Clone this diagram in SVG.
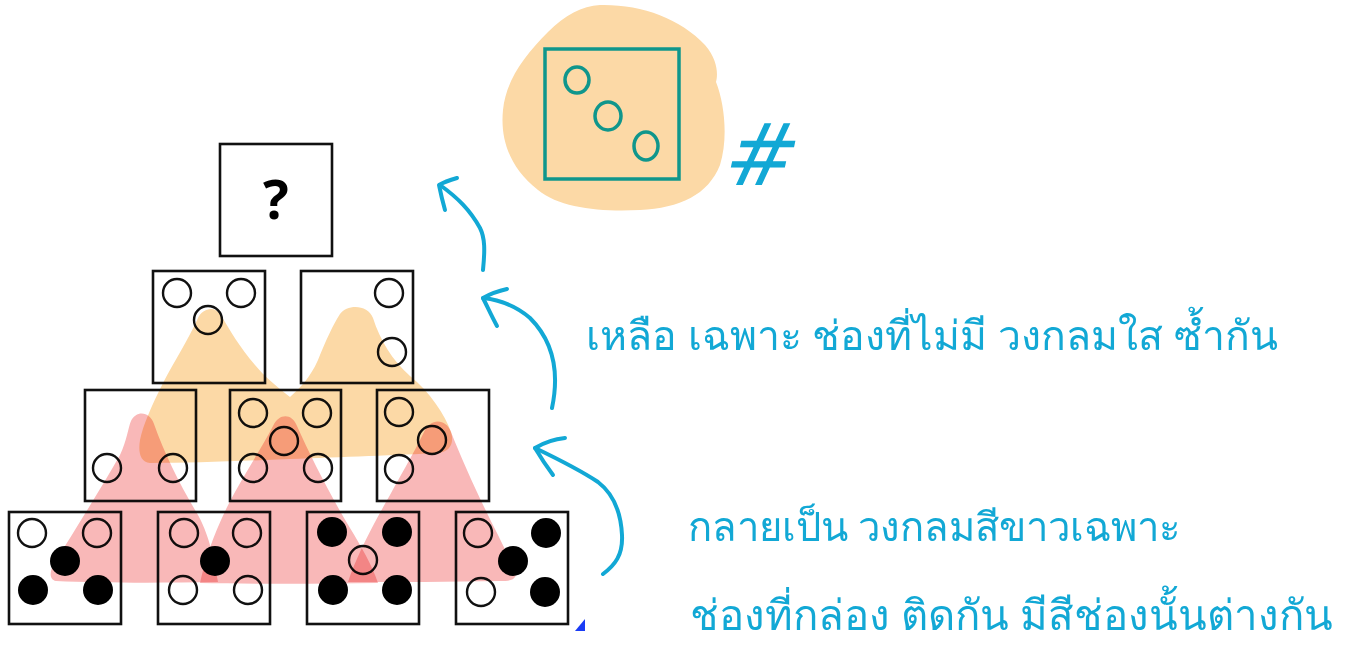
<svg xmlns="http://www.w3.org/2000/svg" width="1351" height="647" viewBox="0 0 1351 647">
<style>
.box{fill:none;stroke:#111;stroke-width:2.6}
.oc{fill:none;stroke:#111;stroke-width:2.4}
.fc{fill:#000}
.ov{mix-blend-mode:multiply}
.orange{fill:#fcd9a6}
.pink{fill:#f9b8b8}
.blue{fill:none;stroke:#12a8d5;stroke-width:4;stroke-linecap:round;stroke-linejoin:round}
.note{fill:#12a8d5;font-family:"Noto Sans","DejaVu Sans",sans-serif;font-size:40px}
.teal{fill:none;stroke:#0f968c;stroke-width:3.5;stroke-linecap:round}
</style>
<rect x="0" y="0" width="1351" height="647" fill="#fff"/>

<g id="blob">
<path class="orange" d="M600,5 C640,4 680,18 705,45 C718,60 718,75 716,82 C725,105 728,140 720,165 C708,195 680,208 640,210 C600,212 560,208 538,190 C510,168 500,140 503,110 C506,80 525,55 548,32 C565,15 582,6 600,5 Z"/>
<rect class="teal" x="545" y="49" width="134" height="130"/>
<ellipse class="teal" cx="577" cy="80" rx="12" ry="13"/>
<ellipse class="teal" cx="608" cy="116" rx="13" ry="14"/>
<ellipse class="teal" cx="646" cy="146" rx="12" ry="14"/>
</g>

<g id="top-box">
<rect class="box" x="220" y="144" width="112" height="112"/>
<text x="276" y="219" text-anchor="middle" font-family="'Open Sans','DejaVu Sans',sans-serif" font-weight="bold" font-size="54" fill="#000">?</text>
</g>

<g id="r2b1">
<rect class="box" x="153" y="271" width="112" height="112"/>
<circle class="oc" cx="177" cy="293" r="14"/>
<circle class="oc" cx="241" cy="293" r="14"/>
<circle class="oc" cx="208" cy="320" r="14"/>
</g>
<g id="r2b2">
<rect class="box" x="301" y="271" width="112" height="112"/>
<circle class="oc" cx="389" cy="293" r="14"/>
<circle class="oc" cx="392" cy="352" r="14"/>
</g>

<g id="r3b1">
<rect class="box" x="85" y="390" width="111" height="111"/>
<circle class="oc" cx="107" cy="468" r="14"/>
<circle class="oc" cx="173" cy="468" r="14"/>
</g>
<g id="r3b2">
<rect class="box" x="230" y="390" width="111" height="111"/>
<circle class="oc" cx="253" cy="413" r="14"/>
<circle class="oc" cx="317" cy="413" r="14"/>
<circle class="oc" cx="284" cy="441" r="14"/>
<circle class="oc" cx="253" cy="468" r="14"/>
<circle class="oc" cx="318" cy="468" r="14"/>
</g>
<g id="r3b3">
<rect class="box" x="377" y="390" width="112" height="111"/>
<circle class="oc" cx="399" cy="412" r="14"/>
<circle class="oc" cx="432" cy="440" r="14"/>
<circle class="oc" cx="399" cy="469" r="14"/>
</g>

<g id="r4b1">
<rect class="box" x="9" y="512" width="112" height="112"/>
<circle class="oc" cx="32" cy="533" r="14"/>
<circle class="oc" cx="97" cy="533" r="14"/>
<circle class="fc" cx="65" cy="561" r="15"/>
<circle class="fc" cx="33" cy="590" r="15"/>
<circle class="fc" cx="98" cy="590" r="15"/>
</g>
<g id="r4b2">
<rect class="box" x="158" y="512" width="112" height="112"/>
<circle class="oc" cx="184" cy="533" r="14"/>
<circle class="oc" cx="247" cy="533" r="14"/>
<circle class="fc" cx="215" cy="561" r="15"/>
<circle class="oc" cx="183" cy="590" r="14"/>
<circle class="oc" cx="248" cy="590" r="14"/>
</g>
<g id="r4b3">
<rect class="box" x="307" y="512" width="112" height="112"/>
<circle class="fc" cx="332" cy="532" r="15"/>
<circle class="fc" cx="397" cy="532" r="15"/>
<circle class="oc" cx="363" cy="560" r="14"/>
<circle class="fc" cx="333" cy="590" r="15"/>
<circle class="fc" cx="397" cy="590" r="15"/>
</g>
<g id="r4b4">
<rect class="box" x="456" y="512" width="112" height="112"/>
<circle class="oc" cx="478" cy="533" r="14"/>
<circle class="fc" cx="546" cy="533" r="15"/>
<circle class="fc" cx="513" cy="561" r="15"/>
<circle class="oc" cx="481" cy="592" r="14"/>
<circle class="fc" cx="545" cy="592" r="15"/>
</g>

<g id="highlights">
<path class="orange ov" d="M150,463 C140,462 138,452 140,440 C143,425 152,405 163,383 C175,360 188,340 198,318 C202,309 214,305 220,314 C230,330 240,348 255,365 C265,377 275,385 290,397 C300,388 310,378 318,360 C326,340 333,325 340,314 C347,304 368,304 373,318 C380,340 392,360 410,376 C430,392 445,415 451,432 C455,445 448,452 438,453 C400,455 340,457 290,459 C240,461 190,463 150,463 Z"/>
<path class="pink ov" d="M56,581 C48,579 50,570 55,562 C75,530 100,490 120,455 C127,440 128,428 131,421 C136,410 150,411 154,424 C165,455 180,485 198,515 C205,528 212,545 218,582 C160,583 100,583 56,581 Z"/>
<path class="pink ov" d="M200,583 C205,560 215,528 235,492 C250,465 265,442 273,426 C279,413 292,413 297,426 C310,455 330,495 350,528 C362,548 372,565 378,583 C320,584 250,584 200,583 Z"/>
<path class="pink ov" d="M348,582 C355,560 370,530 390,495 C405,468 418,445 424,432 C430,418 446,418 451,432 C462,460 480,500 498,535 C505,550 514,565 516,573 C516,580 510,581 500,581 C450,582 400,582 348,582 Z"/>
</g>

<g id="connectors">
<path class="blue" d="M483,270 C485,250 485,238 480,228 C470,210 458,198 440,185"/>
<path class="blue" d="M457,178 C450,180 444,182 439,185 C441,195 443,203 445,210"/>
<path class="blue" d="M552,408 C560,370 552,340 530,318 C515,305 500,300 483,298"/>
<path class="blue" d="M507,289 C498,291 490,294 483,298 C488,308 492,317 497,326"/>
<path class="blue" d="M603,574 C615,565 623,555 622,535 C621,515 615,495 598,482 C580,470 560,460 535,448"/>
<path class="blue" d="M565,438 C555,439 545,442 535,448 C541,458 547,467 553,475"/>
</g>

<g id="labels">
<text x="728" y="185" font-family="'DejaVu Sans',sans-serif" font-size="86" fill="#12a8d5" transform="skewX(-12)" transform-origin="755 150">#</text>
<text class="note" x="586" y="350" style="font-size:41px">เหลือ เฉพาะ ช่องที่ไม่มี วงกลมใส ซ้ำกัน</text>
<text class="note" x="688" y="541">กลายเป็น วงกลมสีขาวเฉพาะ</text>
<text class="note" x="690" y="630" style="font-size:42px">ช่องที่กล่อง ติดกัน มีสีช่องนั้นต่างกัน</text>
</g>

<polygon points="575,631 585,619 585,631" fill="#1a3cf5"/>
</svg>
